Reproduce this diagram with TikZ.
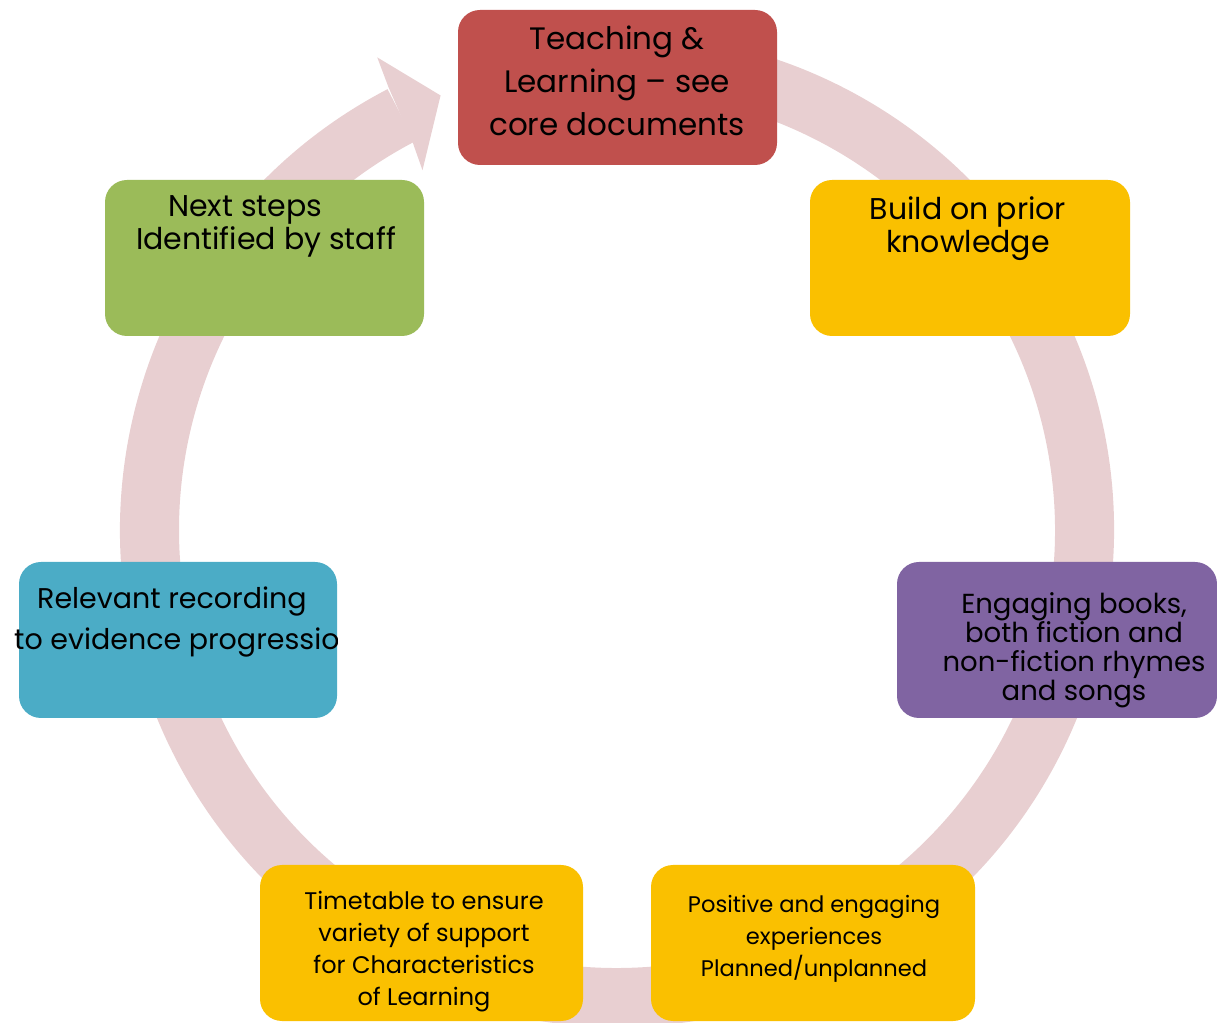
\documentclass[tikz,border=0pt]{standalone}
\usepackage{fontspec}
\setmainfont{Poppins}
\definecolor{ringc}{RGB}{232,207,209}
\definecolor{redc}{RGB}{192,80,77}
\definecolor{goldc}{RGB}{250,192,0}
\definecolor{purc}{RGB}{128,100,162}
\definecolor{tealc}{RGB}{75,172,198}
\definecolor{greenc}{RGB}{155,187,89}
\begin{document}
\begin{tikzpicture}[x=1pt,y=1pt,
  box/.style={rounded corners=22pt, inner sep=0pt, draw=none},
  txt/.style={align=center, text=black, inner sep=0pt}]
\useasboundingbox (0,0) rectangle (1217,1022);
\clip (0,0) rectangle (1217,1022);
% ring with arrow head
\begin{scope}[shift={(617,492)}]
\fill[ringc] (117.5:497) arc[start angle=117.5, end angle=457.5, radius=497]
  -- (457.5:438) arc[start angle=457.5, end angle=117.5, radius=438] -- cycle;
\fill[ringc] (117.3:498) -- (116.9:530) -- (112.1:469) -- (118.4:409) -- (117.8:438) -- cycle;
\end{scope}
% boxes
\path[box, fill=redc] (458,857) rectangle (777,1012) node[midway] (teach) {};
\path[box, fill=goldc] (810,686) rectangle (1130,842) node[midway] (build) {};
\path[box, fill=greenc] (105,686) rectangle (424,842) node[midway] (next) {};
\path[box, fill=purc] (897,304) rectangle (1217,460) node[midway] (books) {};
\path[box, fill=tealc] (19,304) rectangle (337,460) node[midway] (record) {};
\path[box, fill=goldc] (260,1) rectangle (583,157) node[midway] (time) {};
\path[box, fill=goldc] (651,1) rectangle (975,157) node[midway] (posit) {};
% texts
\node[txt, font=\fontsize{31}{43}\selectfont] (teacht) at (617,941) {Teaching \&\\Learning – see\\core documents};
\node[txt, font=\fontsize{30}{33}\selectfont] (buildt) at (968,793.5) {Build on prior\\knowledge};
\node[txt, align=left, anchor=west, font=\fontsize{30}{33}\selectfont] (nextt) at (136,795.5) {\hspace*{32pt}Next steps\\Identified by staff};
\node[txt, font=\fontsize{27.5}{29}\selectfont] (bookst) at (1074,371.5) {Engaging books,\\both fiction and\\non-fiction rhymes\\and songs};
\begin{scope}
\clip (0,304) rectangle (337,460);
\node[txt, align=left, anchor=west, font=\fontsize{28.5}{41}\selectfont] (recordt) at (14,399.5) {\hspace*{23pt}Relevant recording\\to evidence progressio};
\end{scope}
\node[txt, font=\fontsize{24}{32}\selectfont] (timet) at (424,70.5) {Timetable to ensure\\variety of support\\for Characteristics\\of Learning};
\node[txt, font=\fontsize{22.6}{32}\selectfont] (positt) at (814,83) {Positive and engaging\\experiences\\Planned/unplanned};
\end{tikzpicture}
\end{document}
